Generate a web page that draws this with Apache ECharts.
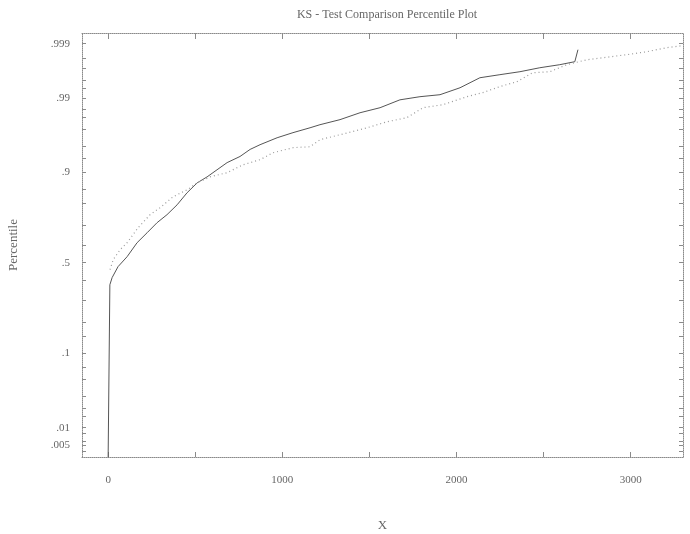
<!DOCTYPE html>
<html><head><meta charset="utf-8">
<script src="https://cdn.jsdelivr.net/npm/echarts@6/dist/echarts.min.js"></script>
<style>html,body{margin:0;background:#fff}#c{width:690px;height:534px}</style>
</head><body><div id="c"></div>
<script>
const chartTitle = 'KS - Test Comparison Percentile Plot';
const xName = 'X';
const yName = 'Percentile';

// Empirical (darker) curve: x values and percentiles
const empX = [0, 10, 23, 57, 109, 166, 224, 281, 338, 396, 453, 511, 568, 625, 683, 757, 815, 872, 970, 1061, 1159, 1216, 1331, 1446, 1561, 1675, 1790, 1905, 2020, 2134, 2249, 2364, 2478, 2593, 2679, 2697];
const empP = [0.003, 0.378, 0.417, 0.478, 0.534, 0.611, 0.664, 0.714, 0.751, 0.793, 0.838, 0.870, 0.887, 0.905, 0.921, 0.933, 0.945, 0.952, 0.961, 0.9667, 0.9715, 0.9742, 0.9782, 0.9828, 0.9856, 0.9892, 0.9904, 0.9911, 0.9932, 0.99546, 0.9960, 0.99647, 0.99702, 0.99739, 0.99771, 0.99867];

// Comparison (lighter, dotted) curve
const fitX = [11, 29, 69, 109, 172, 241, 298, 373, 453, 511, 585, 683, 775, 872, 947, 1061, 1159, 1216, 1331, 1486, 1601, 1715, 1807, 1922, 2060, 2151, 2249, 2346, 2438, 2536, 2633, 2748, 2840, 2978, 3092, 3207, 3299];
const fitP = [0.461, 0.517, 0.573, 0.611, 0.689, 0.751, 0.781, 0.824, 0.848, 0.870, 0.887, 0.898, 0.9165, 0.9269, 0.9396, 0.9476, 0.9491, 0.9586, 0.9645, 0.9715, 0.9766, 0.9796, 0.9856, 0.9871, 0.9904, 0.9918, 0.9935, 0.99466, 0.99632, 0.99647, 0.99739, 0.99790, 0.99808, 0.99833, 0.99854, 0.99879, 0.99890];

const yLabelP = [0.005, 0.01, 0.1, 0.5, 0.9, 0.99, 0.999];
const yLabelText = ['.005', '.01', '.1', '.5', '.9', '.99', '.999'];
const yTickP = [0.004, 0.005, 0.006, 0.008, 0.01, 0.015, 0.02, 0.03, 0.05, 0.07, 0.1, 0.15, 0.2, 0.3, 0.4, 0.5, 0.6, 0.7, 0.8, 0.85, 0.9, 0.93, 0.95, 0.97, 0.98, 0.985, 0.99, 0.993, 0.995, 0.997, 0.998, 0.999];
const xLabelVals = [0, 1000, 2000, 3000];
const xTickVals = [0, 500, 1000, 1500, 2000, 2500, 3000];

// inverse normal CDF (Acklam) - probability scale transform
function probit(p) {
  const a = [-3.969683028665376e+01, 2.209460984245205e+02, -2.759285104469687e+02, 1.383577518672690e+02, -3.066479806614716e+01, 2.506628277459239e+00];
  const b = [-5.447609879822406e+01, 1.615858368580409e+02, -1.556989798598866e+02, 6.680131188771972e+01, -1.328068155288572e+01];
  const c = [-7.784894002430293e-03, -3.223964580411365e-01, -2.400758277161838e+00, -2.549732539343734e+00, 4.374664141464968e+00, 2.938163982698783e+00];
  const d = [7.784695709041462e-03, 3.224671290700398e-01, 2.445134137142996e+00, 3.754408661907416e+00];
  const pl = 0.02425, ph = 1 - pl;
  let q, r;
  if (p < pl) { q = Math.sqrt(-2 * Math.log(p)); return (((((c[0]*q+c[1])*q+c[2])*q+c[3])*q+c[4])*q+c[5]) / ((((d[0]*q+d[1])*q+d[2])*q+d[3])*q+1); }
  if (p <= ph) { q = p - 0.5; r = q*q; return (((((a[0]*r+a[1])*r+a[2])*r+a[3])*r+a[4])*r+a[5])*q / (((((b[0]*r+b[1])*r+b[2])*r+b[3])*r+b[4])*r+1); }
  q = Math.sqrt(-2 * Math.log(1 - p));
  return -(((((c[0]*q+c[1])*q+c[2])*q+c[3])*q+c[4])*q+c[5]) / ((((d[0]*q+d[1])*q+d[2])*q+d[3])*q+1);
}

const yLabelZ = yLabelP.map(probit);
const yTickZ = yTickP.map(probit);
function yFmt(v) {
  for (let i = 0; i < yLabelZ.length; i++) if (Math.abs(yLabelZ[i] - v) < 1e-6) return yLabelText[i];
  return '';
}

const font = 'Liberation Serif';
const axisCol = '#8a8a8a';
const txtCol = '#666';

const chart = echarts.init(document.getElementById('c'));
chart.setOption({
  animation: false,
  backgroundColor: '#fff',
  title: { text: chartTitle, left: 382, textAlign: 'center', top: 4,
    textStyle: { fontFamily: font, fontSize: 12, fontWeight: 'normal', color: txtCol } },
  grid: { left: 82, right: 7, top: 33, bottom: 77, outerBoundsMode: 'none', containLabel: false },
  xAxis: [
    { type: 'value', min: -150, max: 3300, position: 'bottom',
      name: xName, nameLocation: 'middle', nameGap: 62,
      nameTextStyle: { fontFamily: font, fontSize: 13, color: txtCol },
      axisLine: { onZero: false, lineStyle: { color: axisCol, width: 1, type: 'dotted' } },
      axisTick: { inside: true, length: 5, customValues: xTickVals, lineStyle: { color: axisCol } },
      axisLabel: { customValues: xLabelVals, formatter: v => String(v), fontFamily: font, fontSize: 11, color: txtCol, margin: 18 },
      splitLine: { show: false } },
    { type: 'value', min: -150, max: 3300, position: 'top',
      axisLine: { onZero: false, lineStyle: { color: axisCol, width: 1, type: 'dotted' } },
      axisTick: { inside: true, length: 6, customValues: xTickVals, lineStyle: { color: axisCol } },
      axisLabel: { show: false }, splitLine: { show: false } }
  ],
  yAxis: [
    { type: 'value', min: -2.74, max: 3.24, position: 'left',
      name: yName, nameLocation: 'middle', nameGap: 62, nameRotate: 90,
      nameTextStyle: { fontFamily: font, fontSize: 13, color: txtCol },
      axisLine: { onZero: false, lineStyle: { color: axisCol, width: 1, type: 'dotted' } },
      axisTick: { inside: true, length: 4, customValues: yTickZ, lineStyle: { color: axisCol } },
      axisLabel: { customValues: yLabelZ, formatter: yFmt, fontFamily: font, fontSize: 11, color: txtCol, margin: 12 },
      splitLine: { show: false } },
    { type: 'value', min: -2.74, max: 3.24, position: 'right',
      axisLine: { onZero: false, lineStyle: { color: axisCol, width: 1, type: 'dotted' } },
      axisTick: { inside: true, length: 4, customValues: yTickZ, lineStyle: { color: axisCol } },
      axisLabel: { show: false }, splitLine: { show: false } }
  ],
  series: [
    { type: 'line', name: 'empirical', showSymbol: false, clip: true,
      xAxisIndex: 0, yAxisIndex: 0,
      lineStyle: { color: '#555', width: 1 },
      data: empX.map((x, i) => [x, probit(empP[i])]) },
    { type: 'line', name: 'comparison', showSymbol: false, clip: true,
      xAxisIndex: 0, yAxisIndex: 0,
      lineStyle: { color: '#9a9a9a', width: 1.2, type: [1, 3] },
      data: fitX.map((x, i) => [x, probit(fitP[i])]) }
  ]
});
</script></body></html>
